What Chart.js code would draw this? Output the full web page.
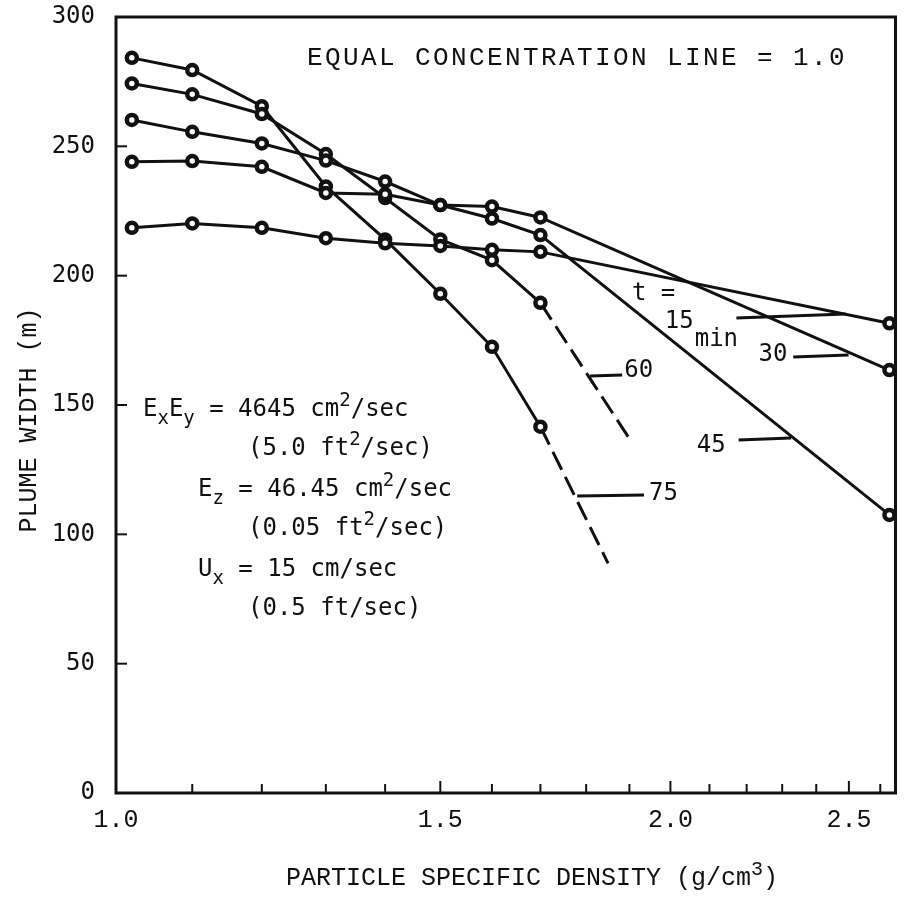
<!DOCTYPE html>
<html>
<head>
<meta charset="utf-8">
<title>Plume width vs particle specific density</title>
<script src="https://cdn.jsdelivr.net/npm/chart.js@4.4.1/dist/chart.umd.min.js"></script>
<style>
  html, body { margin: 0; padding: 0; background: #fff; }
  #wrap { width: 905px; height: 904px; }
</style>
</head>
<body>
<div id="wrap"><canvas id="plume" width="905" height="904"></canvas></div>
<script>
// Particle specific density (g/cm^3) of the computed points
const densities = [1.02, 1.1, 1.2, 1.3, 1.4, 1.5, 1.6, 1.7, 2.63];
const densities60 = [1.02, 1.1, 1.2, 1.3, 1.4, 1.5, 1.6, 1.7, 1.9];
const densities75 = [1.02, 1.1, 1.2, 1.3, 1.4, 1.5, 1.6, 1.7, 1.85];

// Plume width (m) after t minutes
const width15 = [218.5, 220.2, 218.5, 214.5, 212.5, 211.5, 210.0, 209.2, 181.6];
const width30 = [244.0, 244.3, 242.1, 232.0, 231.5, 227.3, 226.7, 222.5, 163.5];
const width45 = [260.2, 255.6, 251.1, 244.5, 236.4, 227.3, 222.1, 215.7, 107.5];
const width60 = [274.3, 270.1, 262.5, 247.0, 230.0, 214.0, 206.0, 189.5, 137.0];
const width75 = [284.2, 279.5, 265.5, 234.5, 214.0, 193.0, 172.5, 141.6, 88.8];

// Axis ticks
const xTickValues = [1.0, 1.1, 1.2, 1.3, 1.4, 1.5, 1.6, 1.7, 1.8, 1.9, 2.0, 2.1, 2.2, 2.3, 2.4, 2.5, 2.6];
const xTickLabels = ['1.0', '1.5', '2.0', '2.5'];
const yTickValues = [0, 50, 100, 150, 200, 250, 300];

// Curve labels: text, label left/centre (data units), leader line from (x1,y1) to (x2,y2)
const curveLabels = [
  { text: '60', lx: 1.888, ly: 163.1, x1: 1.809, y1: 161.2, x2: 1.883, y2: 161.6 },
  { text: '75', lx: 1.947, ly: 115.6, x1: 1.780, y1: 114.8, x2: 1.935, y2: 115.2 },
  { text: '45', lx: 2.067, ly: 134.1, x1: 2.178, y1: 136.5, x2: 2.326, y2: 137.2 },
  { text: '30', lx: 2.233, ly: 169.3, x1: 2.332, y1: 168.6, x2: 2.499, y2: 169.3 },
  { text: '15', lx: 1.986, ly: 182.1, x1: 2.172, y1: 183.6, x2: 2.490, y2: 185.2 }
];
const timeCaption = { text: 't =', lx: 1.906, ly: 192.9 };

const INK = '#111';
const TYPE_MONO = '"Liberation Mono", "Courier New", monospace';
const SANS_MONO = '"DejaVu Sans Mono", monospace';

function toPoints(xs, ys) {
  return xs.map((x, i) => ({ x: x, y: ys[i] }));
}

function series(xs, ys, dashedEnd) {
  const last = ys.length - 1;
  return {
    data: toPoints(xs, ys),
    borderColor: INK,
    borderWidth: 3,
    tension: 0,
    fill: false,
    clip: false,
    pointStyle: 'circle',
    pointRadius: ys.map((_, i) => (dashedEnd && i === last ? 0 : 5)),
    pointBorderWidth: 4.5,
    pointBorderColor: INK,
    pointBackgroundColor: '#fff',
    segment: {
      borderDash: c => (dashedEnd && c.p1DataIndex === last ? [20, 8] : undefined)
    }
  };
}

// Draws a run of text pieces; each piece may be raised or lowered (sup/sub)
function drawRun(ctx, pieces, x, y, family, size) {
  let cx = x;
  pieces.forEach(p => {
    const s = p.small ? Math.round(size * 0.8) : size;
    ctx.font = s + 'px ' + family;
    ctx.fillText(p.t, cx, y + (p.dy || 0));
    cx += ctx.measureText(p.t).width;
  });
  return cx;
}

// Typewriter-style text on a fixed character pitch
function drawPitched(ctx, text, x, y, pitch) {
  for (let i = 0; i < text.length; i++) {
    ctx.fillText(text[i], x + i * pitch, y);
  }
}

const annotations = {
  id: 'annotations',
  afterDraw(chart) {
    const ctx = chart.ctx;
    const a = chart.chartArea;
    const xs = chart.scales.x;
    const ys = chart.scales.y;
    const px = v => xs.getPixelForValue(v);
    const py = v => ys.getPixelForValue(v);
    ctx.save();
    ctx.strokeStyle = INK;
    ctx.fillStyle = INK;
    ctx.lineCap = 'butt';

    // frame
    ctx.lineWidth = 3;
    ctx.strokeRect(a.left, a.top, a.right - a.left, a.bottom - a.top);

    // inward tick marks
    ctx.lineWidth = 2;
    xTickValues.forEach(v => {
      const x = px(v);
      if (x <= a.left + 2) return;
      const major = xTickLabels.includes(v.toFixed(1));
      ctx.beginPath();
      ctx.moveTo(x, a.bottom);
      ctx.lineTo(x, a.bottom - (major ? 12 : 9));
      ctx.stroke();
    });
    yTickValues.forEach(v => {
      const y = py(v);
      if (y <= a.top + 2 || y >= a.bottom - 2) return;
      ctx.beginPath();
      ctx.moveTo(a.left, y);
      ctx.lineTo(a.left + 11, y);
      ctx.stroke();
    });

    // axis titles
    ctx.textBaseline = 'alphabetic';
    ctx.textAlign = 'left';
    drawRun(ctx, [
      { t: 'PARTICLE SPECIFIC DENSITY (g/cm' },
      { t: '3', small: true, dy: -10 },
      { t: ')' }
    ], 286, 885, TYPE_MONO, 25);

    ctx.save();
    ctx.translate(36, 420);
    ctx.rotate(-Math.PI / 2);
    ctx.textAlign = 'center';
    ctx.font = '25px ' + TYPE_MONO;
    ctx.fillText('PLUME WIDTH (m)', 0, 0);
    ctx.restore();

    // heading inside the plot
    ctx.font = '26px ' + TYPE_MONO;
    drawPitched(ctx, 'EQUAL CONCENTRATION LINE = 1.0', 307, 65, 18);

    // diffusion and velocity parameters
    const F = SANS_MONO, S = 24;
    drawRun(ctx, [
      { t: 'E' }, { t: 'x', small: true, dy: 8 },
      { t: 'E' }, { t: 'y', small: true, dy: 8 },
      { t: ' = 4645 cm' }, { t: '2', small: true, dy: -10 }, { t: '/sec' }
    ], 143, 416, F, S);
    drawRun(ctx, [
      { t: '(5.0 ft' }, { t: '2', small: true, dy: -10 }, { t: '/sec)' }
    ], 248, 455, F, S);
    drawRun(ctx, [
      { t: 'E' }, { t: 'z', small: true, dy: 8 },
      { t: ' = 46.45 cm' }, { t: '2', small: true, dy: -10 }, { t: '/sec' }
    ], 198, 496, F, S);
    drawRun(ctx, [
      { t: '(0.05 ft' }, { t: '2', small: true, dy: -10 }, { t: '/sec)' }
    ], 248, 535, F, S);
    drawRun(ctx, [
      { t: 'U' }, { t: 'x', small: true, dy: 8 },
      { t: ' = 15 cm/sec' }
    ], 198, 576, F, S);
    drawRun(ctx, [{ t: '(0.5 ft/sec)' }], 248, 615, F, S);

    // curve labels with leader lines
    ctx.lineWidth = 3;
    ctx.font = S + 'px ' + F;
    ctx.textBaseline = 'middle';
    curveLabels.forEach(l => {
      ctx.beginPath();
      ctx.moveTo(px(l.x1), py(l.y1));
      ctx.lineTo(px(l.x2), py(l.y2));
      ctx.stroke();
      ctx.fillText(l.text, px(l.lx), py(l.ly));
      if (l.text === '15') {
        ctx.fillText('min', px(l.lx) + ctx.measureText('15').width + 1, py(l.ly) + 18);
      }
    });
    ctx.fillText(timeCaption.text, px(timeCaption.lx), py(timeCaption.ly));

    ctx.restore();
  }
};

new Chart(document.getElementById('plume'), {
  type: 'line',
  data: {
    datasets: [
      series(densities, width15, false),
      series(densities, width30, false),
      series(densities, width45, false),
      series(densities60, width60, true),
      series(densities75, width75, true)
    ]
  },
  options: {
    responsive: false,
    animation: false,
    layout: { padding: { left: 0, right: 5, top: 17, bottom: 0 } },
    plugins: { legend: { display: false }, tooltip: { enabled: false } },
    scales: {
      x: {
        type: 'logarithmic',
        min: 1.0,
        max: 2.65,
        afterBuildTicks: s => { s.ticks = xTickValues.map(v => ({ value: v })); },
        afterFit: s => { s.height = 111; s.paddingLeft = 0; s.paddingRight = 0; },
        grid: { display: false, drawTicks: false },
        border: { display: false },
        ticks: {
          autoSkip: false,
          maxRotation: 0,
          minRotation: 0,
          padding: 12,
          color: INK,
          font: { family: TYPE_MONO, size: 25 },
          callback: v => (xTickLabels.includes(Number(v).toFixed(1)) ? Number(v).toFixed(1) : '')
        }
      },
      y: {
        type: 'linear',
        min: 0,
        max: 300,
        afterBuildTicks: s => { s.ticks = yTickValues.map(v => ({ value: v })); },
        afterFit: s => { s.width = 116; s.paddingTop = 0; s.paddingBottom = 0; },
        grid: { display: false, drawTicks: false },
        border: { display: false },
        ticks: {
          padding: 21,
          color: INK,
          font: { family: SANS_MONO, size: 24 },
          callback: v => String(v)
        }
      }
    }
  },
  plugins: [annotations]
});
</script>
</body>
</html>
